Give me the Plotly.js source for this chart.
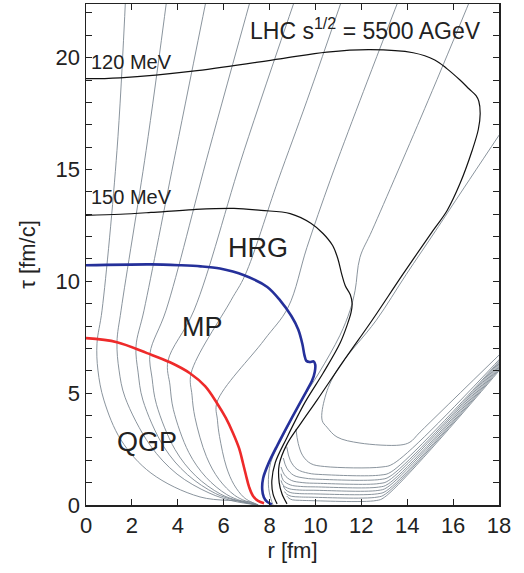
<!DOCTYPE html>
<html><head><meta charset="utf-8">
<script src="https://cdn.plot.ly/plotly-3.0.1.min.js"></script>
<style>html,body{margin:0;padding:0;background:#fff}#chart{width:524px;height:573px}</style>
</head><body><div id="chart"></div>
<script>
// ---- isotherms (r in fm, tau in fm/c) ----
const iso120_r   = [0, 1.48, 4.84, 8.46, 10.5, 12.38, 14.26, 15.2, 15.74, 16.3, 16.7, 17.0, 17.12, 17.18, 17.1, 16.83, 16.3, 15.74, 15.13, 13.8, 12.47, 11.2, 10.07, 9.37, 8.75, 8.42, 8.42, 8.54, 8.76];
const iso120_tau = [19.06, 19.1, 19.42, 19.95, 20.25, 20.36, 20.22, 19.9, 19.5, 19.0, 18.6, 18.3, 18.05, 17.5, 16.8, 15.85, 14.37, 13.17, 12.28, 10.3, 8.26, 6.4, 4.69, 3.66, 2.7, 1.8, 1.0, 0.5, 0.05];
const iso150_r   = [0, 1.5, 2.83, 4.7, 6.45, 7.63, 8.9, 9.8, 10.33, 10.75, 10.98, 11.15, 11.3, 11.52, 11.6, 11.55, 11.4, 11.07, 10.33, 9.55, 8.75, 8.25, 8.1, 8.15, 8.33];
const iso150_tau = [12.95, 13.0, 13.08, 13.21, 13.26, 13.17, 13.03, 12.6, 12.14, 11.6, 11.0, 10.3, 9.8, 9.4, 9.0, 8.6, 8.1, 7.23, 5.89, 4.6, 3.0, 1.9, 1.1, 0.5, 0.05];
// ---- phase boundaries ----
const qgpEdge_r   = [0, 1.35, 2.66, 3.66, 4.53, 5.19, 5.71, 6.10, 6.41, 6.67, 6.84, 6.97, 7.11, 7.28, 7.50, 7.76];
const qgpEdge_tau = [7.46, 7.28, 6.79, 6.38, 5.89, 5.31, 4.55, 3.88, 3.21, 2.54, 1.88, 1.34, 0.80, 0.40, 0.18, 0.08];
const hrgEdge_r   = [0, 2.83, 4.1, 5.0, 5.84, 6.89, 7.9, 8.46, 8.95, 9.25, 9.43, 9.52, 9.6, 9.75, 9.92, 9.99, 9.97, 9.85, 9.63, 9.0, 8.33, 7.95, 7.72, 7.68, 7.75, 7.9, 8.1];
const hrgEdge_tau = [10.72, 10.76, 10.72, 10.67, 10.57, 10.27, 9.75, 9.15, 8.45, 7.85, 7.2, 6.7, 6.45, 6.39, 6.42, 6.28, 5.95, 5.55, 5.13, 3.95, 2.65, 1.85, 1.2, 0.7, 0.35, 0.14, 0.03];
// ---- thin gray lines ----
const flow1_r   = [1.74, 1.35, 0.70, 0.48, 0.52, 0.78, 1.53, 2.83, 4.97, 7.19, 7.5];
const flow1_tau = [22.99, 15.85, 8.71, 7.23, 6.03, 4.69, 2.90, 1.43, 0.36, 0.13, 0];
const flow2_r   = [3.57, 2.62, 1.53, 1.35, 1.44, 1.70, 2.79, 3.97, 5.36, 6.41, 7.5];
const flow2_tau = [22.99, 15.85, 8.71, 7.28, 6.03, 4.82, 2.68, 1.38, 0.54, 0.18, 0];
const flow3_r   = [5.32, 3.92, 2.53, 2.18, 2.27, 2.48, 3.40, 4.42, 5.65, 6.54, 7.5];
const flow3_tau = [22.99, 15.85, 8.71, 7.10, 5.94, 4.69, 2.59, 1.36, 0.51, 0.20, 0];
const flow4_r   = [7.28, 5.36, 3.49, 2.79, 2.88, 3.07, 3.88, 4.78, 5.86, 6.64, 7.5];
const flow4_tau = [22.99, 15.85, 8.71, 6.79, 5.67, 4.50, 2.48, 1.30, 0.49, 0.19, 0];
const flow5_r   = [9.24, 6.89, 4.71, 3.57, 3.66, 3.81, 4.48, 5.23, 6.13, 6.78, 7.5];
const flow5_tau = [22.99, 15.85, 8.71, 6.43, 5.36, 4.26, 2.35, 1.24, 0.47, 0.18, 0];
const flow6_r   = [11.29, 9.63, 8.37, 6.93, 6.32, 4.58, 4.62, 4.75, 5.25, 5.80, 6.47, 6.95, 7.5];
const flow6_tau = [22.99, 18.08, 14.51, 10.27, 9.15, 5.89, 4.91, 3.91, 2.16, 1.14, 0.44, 0.18, 0];
const flow7_r   = [13.78, 11.94, 10.64, 9.63, 8.81, 7.76, 5.71, 5.73, 5.82, 6.12, 6.45, 6.86, 7.15, 7.5];
const flow7_tau = [22.99, 18.08, 14.51, 11.52, 8.84, 7.37, 4.60, 3.79, 3.06, 1.70, 0.91, 0.36, 0.16, 0];
const flow8_r   = [16.91, 14.91, 12.47, 11.94, 11.73, 11.51, 11.07, 10.15, 9.35, 8.55, 8.05, 7.95, 8.05, 8.15];
const flow8_tau = [22.99, 18.08, 12.28, 11.07, 9.60, 8.71, 7.59, 5.9, 4.6, 3.0, 1.9, 0.9, 0.3, 0];
const cont1_r   = [18.5, 16.1, 15.25, 13.95, 12.65, 10.94, 10.42, 10.29, 10.5, 10.94, 11.94, 13.69, 14.12, 14.56, 18.3];
const cont1_tau = [17.3, 13.6, 12.28, 10.3, 8.26, 6.03, 4.82, 3.79, 3.48, 3.04, 2.77, 2.68, 2.81, 3.26, 7.0];
const cont2_r   = [9.15, 9.25, 9.45, 9.8, 10.4, 12.9, 13.4, 18.3];
const cont2_tau = [3.4, 2.75, 2.2, 1.85, 1.72, 1.70, 1.85, 6.82];
const cont3_r   = [8.75, 8.9, 9.2, 9.7, 10.3, 12.85, 13.3, 18.3];
const cont3_tau = [2.6, 2.0, 1.6, 1.42, 1.36, 1.34, 1.48, 6.76];
const cont4_r   = [8.6, 8.75, 9.05, 9.55, 10.2, 12.8, 13.25, 18.3];
const cont4_tau = [2.1, 1.65, 1.33, 1.2, 1.15, 1.14, 1.28, 6.72];
const cont5_r   = [8.5, 8.65, 8.95, 9.45, 10.1, 12.78, 13.2, 18.3];
const cont5_tau = [1.7, 1.35, 1.1, 1.0, 0.97, 0.96, 1.1, 6.66];
const cont6_r   = [8.5, 8.6, 8.9, 9.35, 10.0, 12.75, 13.17, 18.3];
const cont6_tau = [1.4, 1.1, 0.9, 0.83, 0.81, 0.80, 0.94, 6.60];
const cont7_r   = [8.5, 8.6, 8.85, 9.3, 9.9, 12.72, 13.13, 18.3];
const cont7_tau = [1.1, 0.88, 0.73, 0.67, 0.66, 0.65, 0.79, 6.54];
const cont8_r   = [8.6, 8.7, 8.9, 9.3, 9.8, 12.7, 13.1, 18.3];
const cont8_tau = [0.85, 0.68, 0.56, 0.51, 0.50, 0.50, 0.64, 6.48];
const cont9_r   = [8.65, 8.75, 8.95, 9.3, 9.7, 12.68, 13.05, 18.3];
const cont9_tau = [0.6, 0.48, 0.39, 0.36, 0.35, 0.35, 0.49, 6.42];
const cont10_r   = [8.75, 8.85, 9.0, 9.3, 9.6, 12.65, 13.0, 18.3];
const cont10_tau = [0.4, 0.3, 0.23, 0.21, 0.20, 0.20, 0.34, 6.36];

const xTicks = [0, 2, 4, 6, 8, 10, 12, 14, 16, 18];
const yTicks = [0, 5, 10, 15, 20];

const grayLines = [
  [flow1_r, flow1_tau], [flow2_r, flow2_tau], [flow3_r, flow3_tau], [flow4_r, flow4_tau],
  [flow5_r, flow5_tau], [flow6_r, flow6_tau], [flow7_r, flow7_tau], [flow8_r, flow8_tau],
  [cont1_r, cont1_tau], [cont2_r, cont2_tau], [cont3_r, cont3_tau], [cont4_r, cont4_tau],
  [cont5_r, cont5_tau], [cont6_r, cont6_tau], [cont7_r, cont7_tau], [cont8_r, cont8_tau],
  [cont9_r, cont9_tau], [cont10_r, cont10_tau]
];
const traces = grayLines.map(([r, t]) => ({
  x: r, y: t, mode: 'lines', type: 'scatter', hoverinfo: 'skip',
  line: {color: '#7d8892', width: 0.9, shape: 'spline', smoothing: 1}
}));
traces.push({x: iso150_r, y: iso150_tau, mode: 'lines', line: {color: '#111', width: 1.2, shape: 'spline', smoothing: 1}});
traces.push({x: iso120_r, y: iso120_tau, mode: 'lines', line: {color: '#111', width: 1.2, shape: 'spline', smoothing: 1}});
traces.push({x: qgpEdge_r, y: qgpEdge_tau, mode: 'lines', line: {color: '#ee2a2a', width: 2.6, shape: 'spline', smoothing: 1}});
traces.push({x: hrgEdge_r, y: hrgEdge_tau, mode: 'lines', line: {color: '#25309a', width: 2.6, shape: 'spline', smoothing: 0.9}});

const F = 'Liberation Sans, Arial, Helvetica, sans-serif';
const layout = {
  width: 524, height: 573, showlegend: false,
  margin: {l: 86, r: 25, t: 4, b: 68},
  paper_bgcolor: '#fff', plot_bgcolor: '#fff',
  font: {family: F, color: '#222', size: 22},
  xaxis: {range: [0, 18], tickvals: xTicks, ticktext: xTicks.map(String), ticks: 'inside', ticklen: 6,
          tickwidth: 1, tickcolor: '#222', mirror: 'ticks', showline: true, linecolor: '#222', linewidth: 1.5,
          showgrid: false, zeroline: false, tickfont: {size: 22},
          title: {text: 'r [fm]', font: {size: 22}, standoff: 5}},
  yaxis: {range: [0, 22.4], tickvals: yTicks, ticktext: yTicks.map(String), ticks: 'inside', ticklen: 6,
          tickwidth: 1, tickcolor: '#222', mirror: 'ticks', showline: true, linecolor: '#222', linewidth: 1.5,
          showgrid: false, zeroline: false, tickfont: {size: 22},
          minor: {dtick: 1, tick0: 0, ticks: 'inside', ticklen: 6, tickcolor: '#222', showgrid: false},
          title: {text: 'τ [fm/c]', font: {size: 22}, standoff: 14}},
  annotations: [
    {x: 12.2, y: 21.3, text: 'LHC s<sup>1/2</sup> = 5500 AGeV', showarrow: false, xanchor: 'center', yanchor: 'middle', font: {size: 23}},
    {x: 0.13, y: 19.8, text: '120 MeV', showarrow: false, xanchor: 'left', yanchor: 'middle', font: {size: 20}},
    {x: 0.13, y: 13.75, text: '150 MeV', showarrow: false, xanchor: 'left', yanchor: 'middle', font: {size: 20}},
    {x: 7.5, y: 11.47, text: 'HRG', showarrow: false, xanchor: 'center', yanchor: 'middle', font: {size: 27}},
    {x: 5.06, y: 7.95, text: 'MP', showarrow: false, xanchor: 'center', yanchor: 'middle', font: {size: 27}},
    {x: 2.68, y: 2.81, text: 'QGP', showarrow: false, xanchor: 'center', yanchor: 'middle', font: {size: 27}}
  ]
};
Plotly.newPlot('chart', traces, layout, {staticPlot: true, displayModeBar: false});
</script></body></html>
